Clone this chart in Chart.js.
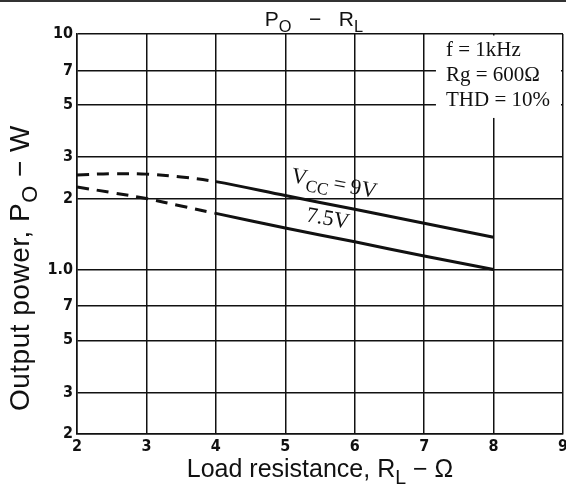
<!DOCTYPE html>
<html>
<head>
<meta charset="utf-8">
<script src="https://cdn.jsdelivr.net/npm/chart.js@4/dist/chart.umd.min.js"></script>
<style>
  html, body { margin: 0; padding: 0; background: #fff; }
  canvas { display: block; }
</style>
</head>
<body>
<canvas id="chart" width="566" height="488"></canvas>
<script>
// Output power vs. load resistance (W), two supply voltages
const loadOhms = [2, 2.5, 3, 3.5, 4, 5, 6, 7, 8];
const power9V = [2.52, 2.55, 2.54, 2.47, 2.36, 2.06, 1.80, 1.57, 1.37];
const power75V = [2.24, 2.12, 2.0, 1.86, 1.73, 1.50, 1.31, 1.14, 1.0];

// Below this load the curves are drawn dashed
const dashedUpTo = 4;

const xTicks = [2, 3, 4, 5, 6, 7, 8, 9];
const yTicks = [0.2, 0.3, 0.5, 0.7, 1, 2, 3, 5, 7, 10];
const yTickLabels = ['2', '3', '5', '7', '1.0', '2', '3', '5', '7', '10'];

const conditions = ['f = 1kHz', 'Rg = 600Ω', 'THD = 10%'];

const INK = '#111';
const SANS = '"Liberation Sans", Arial, sans-serif';
const NARROW = '"DejaVu Sans Condensed", "Liberation Sans", sans-serif';
const SERIF = '"Liberation Serif", "Times New Roman", serif';

function pts(xs, ys) { return xs.map((x, i) => ({ x, y: ys[i] })); }

function curve(label, data) {
  return {
    label,
    data,
    showLine: true,
    borderColor: INK,
    borderWidth: 3,
    pointRadius: 0,
    tension: 0.35,
    segment: {
      borderDash: ctx => ctx.p1.parsed.x <= dashedUpTo ? [12, 8] : undefined
    }
  };
}

// Draws a run of [text, isSubscript] parts starting at x
function drawRuns(ctx, runs, x, y, size, family) {
  for (const [t, sub] of runs) {
    const s = sub ? size * 0.78 : size;
    ctx.font = `${s}px ${family}`;
    ctx.fillText(t, x, sub ? y + size * 0.28 : y);
    x += ctx.measureText(t).width;
  }
  return x;
}
function runsWidth(ctx, runs, size, family) {
  let w = 0;
  for (const [t, sub] of runs) {
    ctx.font = `${sub ? size * 0.78 : size}px ${family}`;
    w += ctx.measureText(t).width;
  }
  return w;
}

const textPlugin = {
  id: 'chartTexts',
  beforeDatasetsDraw(chart) {
    const { ctx, chartArea: a, scales: { x, y } } = chart;
    // white panel for the test conditions, over the grid
    const x0 = x.getPixelForValue(7.17);
    const y1 = y.getPixelForValue(4.4);
    ctx.save();
    ctx.fillStyle = '#fff';
    ctx.fillRect(x0, a.top + 1.5, a.right - 2 - x0, y1 - a.top - 1.5);
    ctx.restore();
  },
  afterDraw(chart) {
    const { ctx, chartArea: a } = chart;
    ctx.save();
    ctx.textBaseline = 'alphabetic';
    ctx.textAlign = 'left';

    // top rule
    ctx.fillStyle = '#333';
    ctx.fillRect(0, 0, chart.width, 2);
    ctx.fillStyle = INK;

    // title
    const tRuns = [['P', false], ['O', true], ['   −   ', false], ['R', false], ['L', true]];
    const tw = runsWidth(ctx, tRuns, 21, SANS);
    drawRuns(ctx, tRuns, 314 - tw / 2, 26, 21, SANS);

    // x axis title
    const xRuns = [['Load resistance, R', false], ['L', true], [' − Ω', false]];
    const xw = runsWidth(ctx, xRuns, 25, SANS);
    drawRuns(ctx, xRuns, 320 - xw / 2, 477, 25, SANS);

    // y axis title
    ctx.save();
    ctx.letterSpacing = '0.5px';
    const yRuns = [['Output power, P', false], ['O', true], [' − W', false]];
    const yw = runsWidth(ctx, yRuns, 28, SANS);
    ctx.translate(29, 268);
    ctx.rotate(-Math.PI / 2);
    drawRuns(ctx, yRuns, -yw / 2, 0, 28, SANS);
    ctx.restore();

    // test conditions
    ctx.font = `21px ${SERIF}`;
    conditions.forEach((s, i) => ctx.fillText(s, 446, 56 + i * 25));

    // curve labels
    ctx.save();
    ctx.translate(334, 184);
    ctx.rotate(0.19);
    const vRuns = [['V', false], ['CC', true], ['\u2009=\u20099V', false]];
    const vw = runsWidth(ctx, vRuns, 22, SERIF);
    drawRuns(ctx, vRuns, -vw / 2, 6, 22, SERIF);
    ctx.restore();

    ctx.save();
    ctx.translate(328, 218);
    ctx.rotate(0.17);
    ctx.font = `22px ${SERIF}`;
    ctx.textAlign = 'center';
    ctx.fillText('7.5V', 0, 7);
    ctx.restore();

    ctx.restore();
  }
};

new Chart(document.getElementById('chart'), {
  type: 'scatter',
  data: {
    datasets: [
      curve('VCC = 9V', pts(loadOhms, power9V)),
      curve('7.5V', pts(loadOhms, power75V))
    ]
  },
  options: {
    responsive: false,
    devicePixelRatio: 1,
    animation: false,
    layout: { padding: { top: 34, right: 3, left: 0, bottom: 0 } },
    plugins: { legend: { display: false }, tooltip: { enabled: false } },
    scales: {
      x: {
        type: 'linear',
        min: 2,
        max: 9,
        afterBuildTicks: s => { s.ticks = xTicks.map(v => ({ value: v })); },
        afterFit: s => { s.height = 54; s.paddingRight = 0; s.paddingLeft = 0; },
        grid: { color: INK, lineWidth: 1.5, drawTicks: false },
        border: { color: INK, width: 1.5 },
        ticks: {
          color: INK,
          padding: 3,
          font: { family: NARROW, size: 16, weight: 'bold' }
        }
      },
      y: {
        type: 'logarithmic',
        min: 0.2,
        max: 10,
        afterBuildTicks: s => { s.ticks = yTicks.map(v => ({ value: v })); },
        afterFit: s => { s.width = 77; s.paddingTop = 0; s.paddingBottom = 0; },
        grid: { color: INK, lineWidth: 1.5, drawTicks: false },
        border: { color: INK, width: 1.5 },
        ticks: {
          color: INK,
          padding: 4,
          font: { family: NARROW, size: 16, weight: 'bold' },
          callback: v => {
            const i = yTicks.indexOf(v);
            return i >= 0 ? yTickLabels[i] : '';
          }
        }
      }
    }
  },
  plugins: [textPlugin]
});
</script>
</body>
</html>
